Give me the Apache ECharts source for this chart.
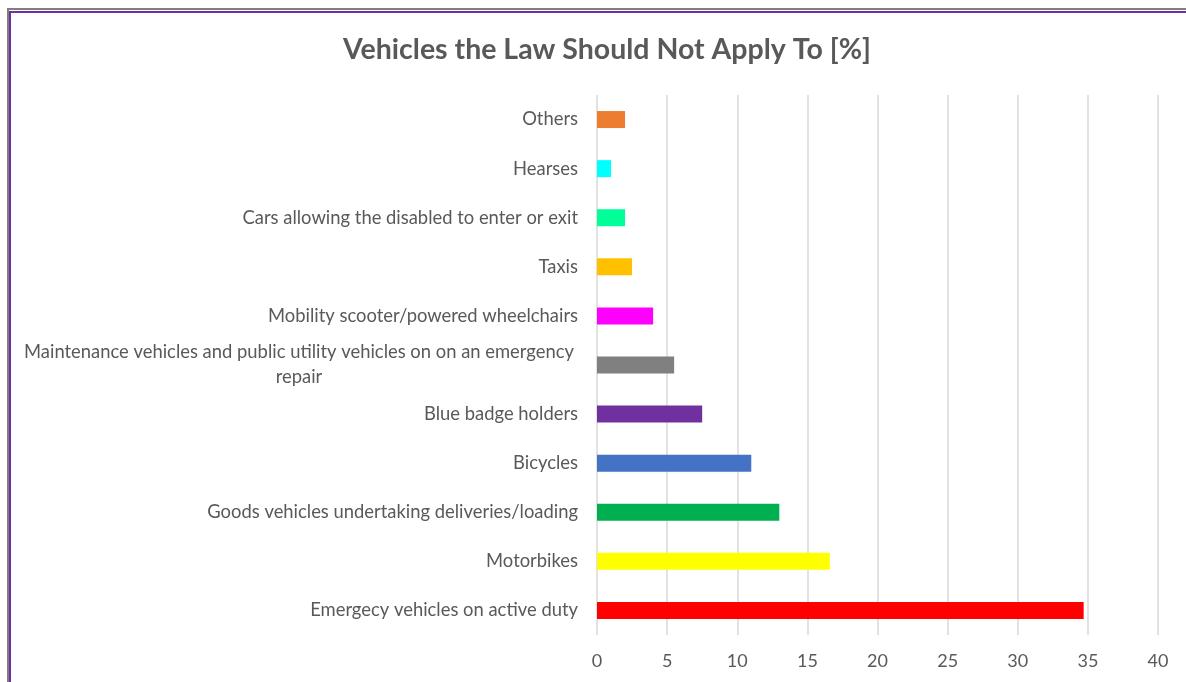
<!DOCTYPE html>
<html>
<head>
<meta charset="utf-8">
<script src="https://cdn.jsdelivr.net/npm/echarts@6/dist/echarts.min.js"></script>
<style>
  html, body { margin: 0; padding: 0; background: #ffffff; overflow: hidden; }
  #frame1 { position: absolute; left: 7px; top: 8px; width: 1200px; height: 700px; border-left: 2px solid #7f7f7f; border-top: 2px solid #7f7f7f; }
  #frame2 { position: absolute; left: 9px; top: 11px; width: 1200px; height: 700px; border-left: 2px solid #7030a0; border-top: 2px solid #7030a0; }
  #chart { position: absolute; left: 0; top: 0; width: 1186px; height: 682px; }
</style>
</head>
<body>
<div id="frame1"></div>
<div id="frame2"></div>
<div id="chart"></div>
<script>
const titleText = 'Vehicles the Law Should Not Apply To [%]';
// bottom to top order
const categories = [
  'Emergecy vehicles on active duty',
  'Motorbikes',
  'Goods vehicles undertaking deliveries/loading',
  'Bicycles',
  'Blue badge holders',
  'Maintenance vehicles and public utility vehicles on on an emergency repair',
  'Mobility scooter/powered wheelchairs',
  'Taxis',
  'Cars allowing the disabled to enter or exit',
  'Hearses',
  'Others'
];
const values = [34.7, 16.6, 13.0, 11.0, 7.5, 5.5, 4.0, 2.5, 2.0, 1.0, 2.0];
const barColors = ['#FF0000', '#FFFF00', '#00B050', '#4472C4', '#7030A0', '#808080', '#FF00FF', '#FFC000', '#00FF99', '#00FFFF', '#ED7D31'];
const xTicks = [0, 5, 10, 15, 20, 25, 30, 35, 40];

const chart = echarts.init(document.getElementById('chart'), null, { renderer: 'canvas' });
const FONT = 'Lato, "Open Sans", sans-serif';
chart.setOption({
  backgroundColor: 'transparent',
  animation: false,
  title: {
    text: titleText,
    left: 338,
    top: 30,
    textStyle: { fontFamily: FONT, fontSize: 28.5, fontWeight: 'bold', color: '#595959' }
  },
  grid: { left: 597, right: 28, top: 95, bottom: 47, containLabel: false },
  xAxis: {
    type: 'value',
    min: xTicks[0],
    max: xTicks[xTicks.length - 1],
    interval: 5,
    axisLine: { show: false },
    axisTick: { show: false },
    splitLine: { show: true, lineStyle: { color: '#d9d9d9', width: 1.5 } },
    axisLabel: { fontFamily: FONT, fontSize: 18, color: '#595959', margin: 17 }
  },
  yAxis: {
    type: 'category',
    data: categories,
    axisLine: { show: false },
    axisTick: { show: false },
    axisLabel: {
      fontFamily: FONT, fontSize: 18.4, color: '#595959', margin: 19,
      formatter: function (v) {
        if (v.indexOf('Maintenance') === 0) {
          return '{c|Maintenance vehicles and public utility vehicles on on an emergency}\n{c|repair}';
        }
        return v;
      },
      rich: {
        c: { fontFamily: FONT, fontSize: 18.4, color: '#595959', width: 558, align: 'center', lineHeight: 25 }
      }
    }
  },
  series: [{
    type: 'bar',
    data: values.map((v, i) => ({ value: v, itemStyle: { color: barColors[i] } })),
    barWidth: 17
  }]
});
</script>
</body>
</html>
